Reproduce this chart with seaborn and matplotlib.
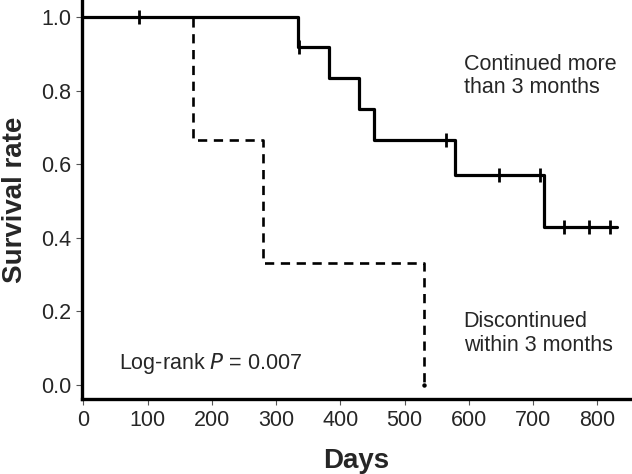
import matplotlib
matplotlib.use("Agg")
import matplotlib.pyplot as plt
import seaborn as sns
import pandas as pd

# Kaplan-Meier step curves
cont_days = [0, 334, 382, 429, 452, 579, 717, 830]
cont_surv = [1.0, 0.917, 0.833, 0.75, 0.667, 0.571, 0.429, 0.429]
cont_censor_days = [87, 335, 565, 647, 710, 748, 787, 820]
cont_censor_surv = [1.0, 0.917, 0.667, 0.571, 0.571, 0.429, 0.429, 0.429]

disc_days = [0, 170, 280, 530]
disc_surv = [1.0, 0.667, 0.333, 0.0]

x_ticks = [0, 100, 200, 300, 400, 500, 600, 700, 800]
y_ticks = [0.0, 0.2, 0.4, 0.6, 0.8, 1.0]

sns.set_style("white")
plt.rcParams["font.family"] = ["Liberation Sans", "DejaVu Sans"]

cont = pd.DataFrame({"days": cont_days, "surv": cont_surv})
disc = pd.DataFrame({"days": disc_days, "surv": disc_surv})
cens = pd.DataFrame({"days": cont_censor_days, "surv": cont_censor_surv})

fig = plt.figure(figsize=(6.32, 4.74), dpi=100)
ax = fig.add_axes([0.13, 0.158, 0.867, 0.842])

sns.lineplot(data=disc, x="days", y="surv", ax=ax, color="black",
             drawstyle="steps-post", linewidth=1.9, dashes=False,
             linestyle=(0, (3.5, 2.5)))
sns.lineplot(data=cont, x="days", y="surv", ax=ax, color="black",
             drawstyle="steps-post", linewidth=2.3)
sns.scatterplot(data=cens, x="days", y="surv", ax=ax, marker="|", s=90,
                color="black", linewidth=2.0)
ax.plot([disc_days[-1]], [0.0], marker="o", markersize=2.2, color="black")

ax.set_xlim(-2, 851)
ax.set_ylim(-0.038, 1.046)
ax.set_xticks(x_ticks)
ax.set_yticks(y_ticks)
ax.set_yticklabels([f"{v:.1f}" for v in y_ticks])
ax.tick_params(axis="both", labelsize=15.5, length=4, width=0.8,
               color="#555555", direction="out", bottom=True, left=True, pad=4)

for side in ["top", "right"]:
    ax.spines[side].set_visible(False)
for side in ["left", "bottom"]:
    ax.spines[side].set_linewidth(2.4)
    ax.spines[side].set_color("black")

ax.set_xlabel("Days", fontsize=20, fontweight="bold", labelpad=12)
ax.set_ylabel("Survival rate", fontsize=20, fontweight="bold", labelpad=9)

ax.text(592, 0.84, "Continued more\nthan 3 months", fontsize=15.5,
        ha="left", va="center", linespacing=1.15)
ax.text(592, 0.14, "Discontinued\nwithin 3 months", fontsize=15.5,
        ha="left", va="center", linespacing=1.15)
ax.text(55, 0.06, "Log-rank $\\it{P}$ = 0.007", fontsize=15.5,
        ha="left", va="center")

fig.savefig("out.png", dpi=100)
